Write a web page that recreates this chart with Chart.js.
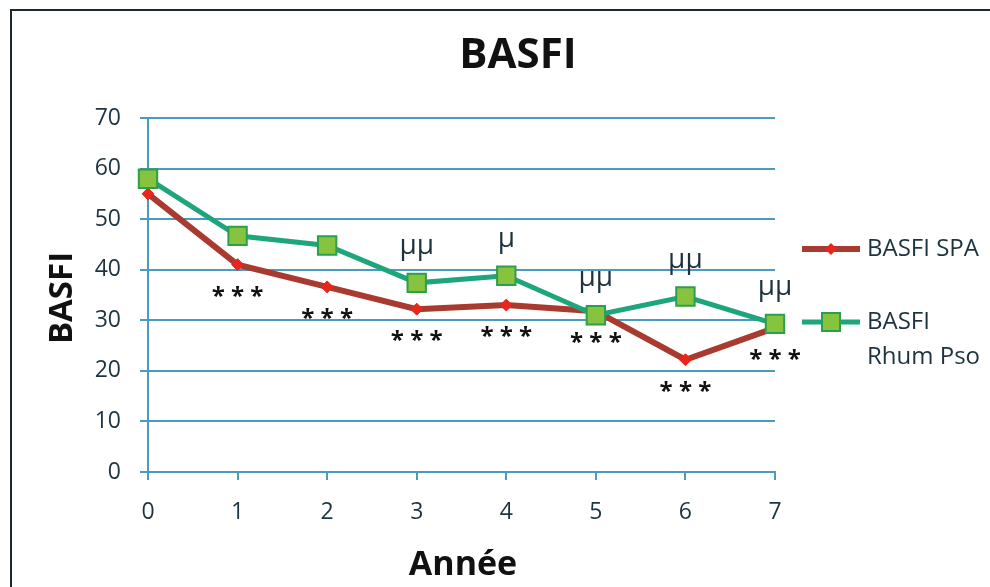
<!DOCTYPE html>
<html>
<head>
<meta charset="utf-8">
<script src="https://cdn.jsdelivr.net/npm/chart.js@4/dist/chart.umd.min.js"></script>
<style>
  html, body { margin: 0; padding: 0; background: #fff; }
  canvas { display: block; }
</style>
</head>
<body>
<canvas id="c" width="990" height="587"></canvas>
<script>
// ---- data ----
const years = ['0', '1', '2', '3', '4', '5', '6', '7'];
const basfiSpa = [55, 41, 36.6, 32.2, 33, 31.8, 22.2, 28.5];
const basfiRhumPso = [58, 46.7, 44.8, 37.4, 38.8, 31, 34.7, 29.3];
const spaSignif = ['', '***', '***', '***', '***', '***', '***', '***'];
const psoSignif = ['', '', '', 'µµ', 'µ', 'µµ', 'µµ', 'µµ'];
const yTickValues = [0, 10, 20, 30, 40, 50, 60, 70];
const chartTitle = 'BASFI';
const yTitle = 'BASFI';
const xTitle = 'Année';
const legendSpa = ['BASFI SPA'];
const legendPso = ['BASFI', 'Rhum Pso'];

const GRID = '#4b9bbf';
const TXT = '#1e3340';
const RED_LINE = '#a93a2f';
const RED_PT = '#e8261c';
const GREEN_LINE = '#1fa57c';
const GREEN_FILL = '#86c440';
const GREEN_EDGE = '#2d9e4a';

const extras = {
  id: 'extras',
  beforeDraw(chart) {
    const ctx = chart.ctx;
    ctx.save();
    ctx.fillStyle = '#fff';
    ctx.fillRect(0, 0, chart.width, chart.height);
    ctx.restore();
  },
  afterDatasetsDraw(chart) {
    const ctx = chart.ctx;
    const x = chart.scales.x, y = chart.scales.y;
    ctx.save();
    // significance marks
    ctx.fillStyle = '#111';
    ctx.textAlign = 'center';
    ctx.textBaseline = 'alphabetic';
    ctx.font = 'bold 24px "Open Sans"';
    spaSignif.forEach((m, i) => {
      if (!m) return;
      const px = x.getPixelForValue(i);
      const py = y.getPixelForValue(basfiSpa[i]) + 26;
      ctx.fillText(m.split('').join(' '), px, py + 13);
    });
    ctx.fillStyle = TXT;
    ctx.font = '28px "Open Sans"';
    psoSignif.forEach((m, i) => {
      if (!m) return;
      const px = x.getPixelForValue(i);
      const py = y.getPixelForValue(basfiRhumPso[i]) - 33;
      ctx.fillText(m, px, py + 4);
    });
    ctx.restore();
  },
  afterDraw(chart) {
    const ctx = chart.ctx;
    ctx.save();
    // frame (top & left)
    ctx.strokeStyle = '#1b2830';
    ctx.lineWidth = 2;
    ctx.beginPath();
    ctx.moveTo(11, chart.height);
    ctx.lineTo(11, 10);
    ctx.lineTo(chart.width, 10);
    ctx.stroke();

    // title
    ctx.fillStyle = '#111';
    ctx.textAlign = 'center';
    ctx.textBaseline = 'alphabetic';
    ctx.font = 'bold 42px "Open Sans"';
    ctx.fillText(chartTitle, 518, 68);

    // x title
    ctx.font = 'bold 34px "Open Sans"';
    ctx.fillText(xTitle, 463, 575);

    // y title
    ctx.save();
    ctx.translate(72, 298);
    ctx.rotate(-Math.PI / 2);
    ctx.font = 'bold 33px "Open Sans"';
    ctx.textBaseline = 'alphabetic';
    ctx.fillText(yTitle, 0, 0);
    ctx.restore();

    // legend
    const drawLegendLine = (yy, color, width) => {
      ctx.strokeStyle = color;
      ctx.lineWidth = width;
      ctx.beginPath();
      ctx.moveTo(802, yy);
      ctx.lineTo(860, yy);
      ctx.stroke();
    };
    drawLegendLine(249, RED_LINE, 6);
    ctx.fillStyle = RED_PT;
    ctx.beginPath();
    ctx.moveTo(831, 243); ctx.lineTo(837, 249); ctx.lineTo(831, 255); ctx.lineTo(825, 249);
    ctx.closePath(); ctx.fill();

    drawLegendLine(322, GREEN_LINE, 5);
    ctx.fillStyle = GREEN_FILL;
    ctx.strokeStyle = GREEN_EDGE;
    ctx.lineWidth = 2;
    ctx.fillRect(822, 313, 18, 18);
    ctx.strokeRect(822, 313, 18, 18);

    ctx.fillStyle = TXT;
    ctx.textAlign = 'left';
    ctx.textBaseline = 'middle';
    ctx.font = '24px "Open Sans"';
    ctx.fillText(legendSpa[0], 867, 249);
    ctx.fillText(legendPso[0], 867, 322);
    ctx.fillText(legendPso[1], 867, 357);
    ctx.restore();
  }
};

new Chart(document.getElementById('c'), {
  type: 'line',
  data: {
    labels: years,
    datasets: [
      {
        label: 'BASFI Rhum Pso',
        data: basfiRhumPso,
        order: 0,
        borderColor: GREEN_LINE,
        borderWidth: 5,
        pointStyle: 'rect',
        pointRadius: 13,
        pointBackgroundColor: GREEN_FILL,
        pointBorderColor: GREEN_EDGE,
        pointBorderWidth: 2,
        tension: 0
      },
      {
        label: 'BASFI SPA',
        data: basfiSpa,
        order: 1,
        borderColor: RED_LINE,
        borderWidth: 6,
        pointStyle: 'rectRot',
        pointRadius: 6,
        pointBackgroundColor: RED_PT,
        pointBorderColor: RED_PT,
        pointBorderWidth: 1,
        tension: 0
      }
    ]
  },
  options: {
    responsive: false,
    animation: false,
    layout: { padding: { left: 0, right: 215, top: 118, bottom: 0 } },
    plugins: {
      legend: { display: false },
      title: { display: false },
      tooltip: { enabled: false }
    },
    scales: {
      x: {
        type: 'category',
        offset: false,
        afterFit(s) { s.height = 115; },
        grid: { drawOnChartArea: false, drawTicks: true, tickLength: 8, color: GRID, lineWidth: 2 },
        border: { display: true, color: GRID, width: 2 },
        ticks: { color: TXT, font: { family: 'Open Sans', size: 23 }, padding: 19, maxRotation: 0 }
      },
      y: {
        min: 0,
        max: 70,
        afterFit(s) { s.width = 148; },
        afterBuildTicks(s) { s.ticks = yTickValues.map(v => ({ value: v })); },
        grid: { color: GRID, lineWidth: 2, tickLength: 8, tickColor: GRID },
        border: { display: true, color: GRID, width: 2 },
        ticks: { color: TXT, font: { family: 'Open Sans', size: 23 }, padding: 19 }
      }
    }
  },
  plugins: [extras]
});
</script>
</body>
</html>
